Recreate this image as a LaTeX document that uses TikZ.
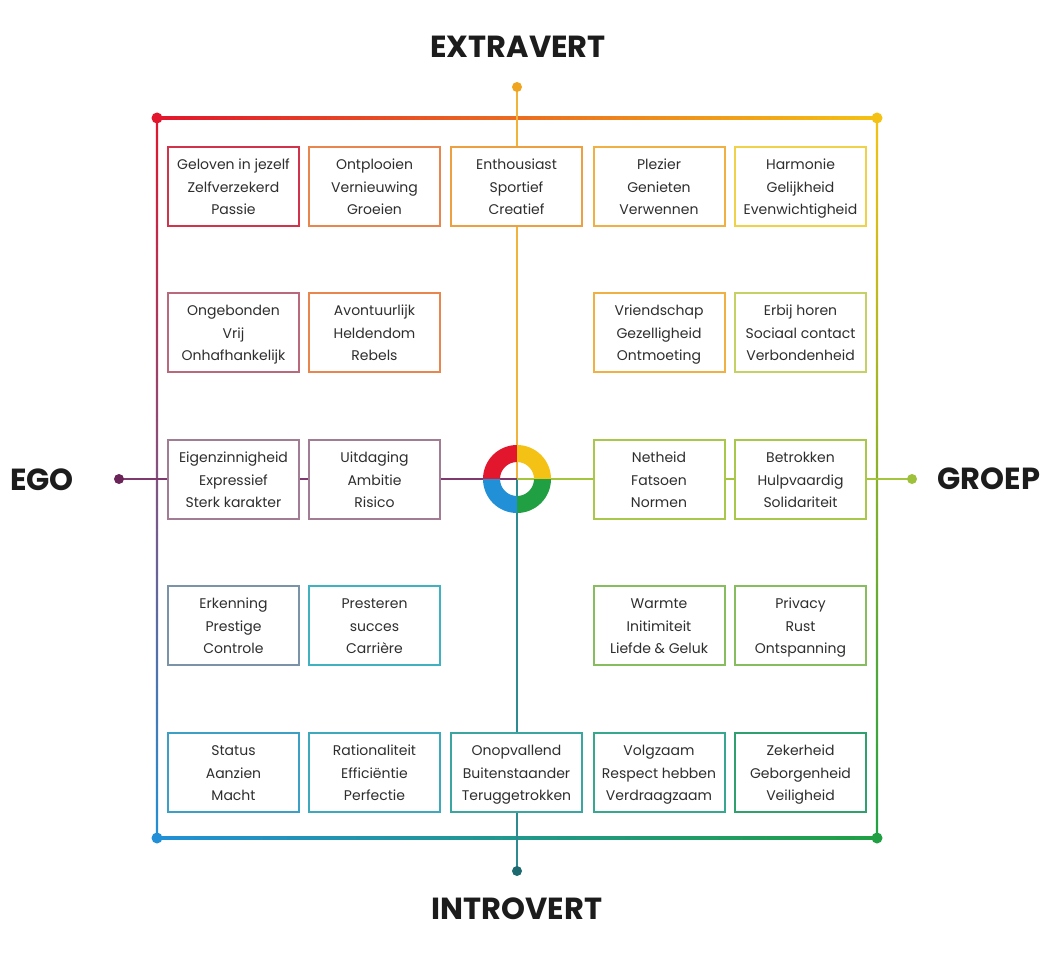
\documentclass[tikz,border=0pt]{standalone}
\usepackage{fontspec}
\setmainfont{Poppins}
\usetikzlibrary{calc}

\definecolor{cText}{HTML}{2E2E2E}
\definecolor{cTitle}{HTML}{1C1C1C}
% ring and corners
\definecolor{cRed}{HTML}{E2162C}
\definecolor{cYel}{HTML}{F4C214}
\definecolor{cBlu}{HTML}{2190D6}
\definecolor{cGrn}{HTML}{20A043}
% frame gradient stops
\definecolor{cFrOr}{HTML}{EB8C42}
\definecolor{cFrPl}{HTML}{9C5D82}
\definecolor{cFrYg}{HTML}{B6C846}
\definecolor{cFrTe}{HTML}{36A7A6}
% axes
\definecolor{cAxN}{HTML}{F2B33D}
\definecolor{cDotN}{HTML}{F0A51E}
\definecolor{cAxW}{HTML}{7E3A6E}
\definecolor{cDotW}{HTML}{6B2458}
\definecolor{cAxE}{HTML}{A6C53F}
\definecolor{cDotE}{HTML}{9DC13A}
\definecolor{cAxS}{HTML}{2C8A90}
\definecolor{cDotS}{HTML}{1D6A70}
% boxes
\definecolor{bRed}{HTML}{D0334A}
\definecolor{bOra}{HTML}{E8864E}
\definecolor{bOry}{HTML}{EDA042}
\definecolor{bOyl}{HTML}{F0B044}
\definecolor{bYel}{HTML}{F0D24A}
\definecolor{bMau}{HTML}{B86A7C}
\definecolor{bYgr}{HTML}{C5D065}
\definecolor{bPlm}{HTML}{A27C93}
\definecolor{bLgr}{HTML}{A9C74A}
\definecolor{bGbl}{HTML}{7B93A8}
\definecolor{bCya}{HTML}{3FB1C0}
\definecolor{bMgr}{HTML}{87BD5E}
\definecolor{bBlu}{HTML}{3B9FC6}
\definecolor{bTea}{HTML}{3EA8BD}
\definecolor{bTeg}{HTML}{3BA5A2}
\definecolor{bTgr}{HTML}{37A78F}
\definecolor{bDgr}{HTML}{2FA06E}

\begin{document}
\begin{tikzpicture}[x=1pt,y=-1pt]
    \tikzstyle{every node}=[font={\fontsize{14}{22.5}\selectfont}, text=cText]
    \tikzstyle{vbox}=[draw, line width=2pt, fill=white, minimum width=131pt, minimum height=79pt, inner sep=0pt, align=center,
        text height=56.6pt, text depth=0pt]
    \tikzstyle{axlabel}=[font={\bfseries\fontsize{30.5}{30.5}\selectfont}, text=cTitle, inner sep=0pt]
    \useasboundingbox (0,0) rectangle (1056,960);

    % frame corners, ring and axis ends
    \coordinate (nw) at (157,118);
    \coordinate (ne) at (877,118);
    \coordinate (sw) at (157,838);
    \coordinate (se) at (877,838);
    \coordinate (ring) at (517,479);
    \coordinate (endN) at (517,87);
    \coordinate (endS) at (517,871);
    \coordinate (endW) at (119,479);
    \coordinate (endE) at (912,479);

    % frame
    \shade[left color=cRed, middle color=cFrOr, right color=cYel] ($(nw)+(0,-1.2)$) rectangle ($(ne)+(0,1.2)$);
    \shade[left color=cBlu, middle color=cFrTe, right color=cGrn] ($(sw)+(0,-1.2)$) rectangle ($(se)+(0,1.2)$);
    \shade[top color=cRed, middle color=cFrPl, bottom color=cBlu] ($(nw)+(-1.2,0)$) rectangle ($(sw)+(1.2,0)$);
    \shade[top color=cYel, middle color=cFrYg, bottom color=cGrn] ($(ne)+(-1.2,0)$) rectangle ($(se)+(1.2,0)$);

    % axes
    \draw[cAxN, line width=2pt] (endN) -- (ring);
    \draw[cAxS, line width=2pt] (ring) -- (endS);
    \draw[cAxW, line width=2pt] (endW) -- (ring);
    \draw[cAxE, line width=2pt] (ring) -- (endE);

    % row 1
    \node[vbox, draw=bRed] (b11) at (233.5,186.5) {Geloven in jezelf\\Zelfverzekerd\\Passie};
    \node[vbox, draw=bOra] (b12) at (374.5,186.5) {Ontplooien\\Vernieuwing\\Groeien};
    \node[vbox, draw=bOry] (b13) at (516.5,186.5) {Enthousiast\\Sportief\\Creatief};
    \node[vbox, draw=bOyl] (b14) at (659,186.5) {Plezier\\Genieten\\Verwennen};
    \node[vbox, draw=bYel] (b15) at (800.5,186.5) {Harmonie\\Gelijkheid\\Evenwichtigheid};
    % row 2
    \node[vbox, draw=bMau] (b21) at (233.5,332.5) {Ongebonden\\Vrij\\Onhafhankelijk};
    \node[vbox, draw=bOra] (b22) at (374.5,332.5) {Avontuurlijk\\Heldendom\\Rebels};
    \node[vbox, draw=bOyl] (b24) at (659,332.5) {Vriendschap\\Gezelligheid\\Ontmoeting};
    \node[vbox, draw=bYgr] (b25) at (800.5,332.5) {Erbij horen\\Sociaal contact\\Verbondenheid};
    % row 3
    \node[vbox, draw=bPlm] (b31) at (233.5,479.5) {Eigenzinnigheid\\Expressief\\Sterk karakter};
    \node[vbox, draw=bPlm] (b32) at (374.5,479.5) {Uitdaging\\Ambitie\\Risico};
    \node[vbox, draw=bLgr] (b34) at (659,479.5) {Netheid\\Fatsoen\\Normen};
    \node[vbox, draw=bLgr] (b35) at (800.5,479.5) {Betrokken\\Hulpvaardig\\Solidariteit};
    % row 4
    \node[vbox, draw=bGbl] (b41) at (233.5,625.5) {Erkenning\\Prestige\\Controle};
    \node[vbox, draw=bCya] (b42) at (374.5,625.5) {Presteren\\succes\\Carrière};
    \node[vbox, draw=bMgr] (b44) at (659,625.5) {Warmte\\Initimiteit\\Liefde \& Geluk};
    \node[vbox, draw=bMgr] (b45) at (800.5,625.5) {Privacy\\Rust\\Ontspanning};
    % row 5
    \node[vbox, draw=bBlu] (b51) at (233.5,772.5) {Status\\Aanzien\\Macht};
    \node[vbox, draw=bTea] (b52) at (374.5,772.5) {Rationaliteit\\Efficiëntie\\Perfectie};
    \node[vbox, draw=bTeg] (b53) at (516.5,772.5) {Onopvallend\\Buitenstaander\\Teruggetrokken};
    \node[vbox, draw=bTgr] (b54) at (659,772.5) {Volgzaam\\Respect hebben\\Verdraagzaam};
    \node[vbox, draw=bDgr] (b55) at (800.5,772.5) {Zekerheid\\Geborgenheid\\Veiligheid};

    % ring
    \foreach \a/\c in {180/cRed, 270/cYel, 0/cGrn, 90/cBlu}
        \fill[\c] ($(ring)+(\a:34)$) arc[start angle=\a, delta angle=90, radius=34]
            -- ($(ring)+(\a+90:17)$) arc[start angle=\a+90, delta angle=-90, radius=17] -- cycle;

    % dots
    \fill[cRed] (nw) circle (5.5);
    \fill[cYel] (ne) circle (5.5);
    \fill[cBlu] (sw) circle (5.5);
    \fill[cGrn] (se) circle (5.5);
    \fill[cDotN] (endN) circle (5);
    \fill[cDotS] (endS) circle (5);
    \fill[cDotW] (endW) circle (5);
    \fill[cDotE] (endE) circle (5);

    % labels
    \node[axlabel] (extra) at (518,47) {EXTRAVERT};
    \node[axlabel] (intro) at (517,909) {INTROVERT};
    \node[axlabel] (ego) at (42,480) {EGO};
    \node[axlabel] (groep) at (989,479) {GROEP};
\end{tikzpicture}
\end{document}
